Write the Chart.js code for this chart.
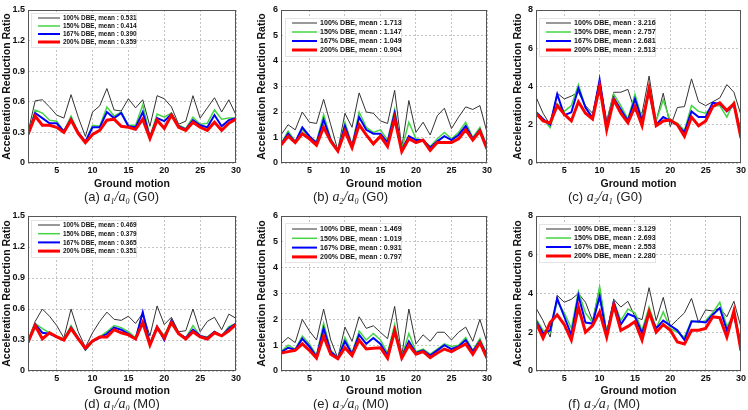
<!DOCTYPE html>
<html>
<head>
<meta charset="utf-8">
<script src="https://cdn.jsdelivr.net/npm/chart.js@4.4.1/dist/chart.umd.min.js"></script>
<style>
  body { margin: 0; background: #fff; width: 748px; height: 410px; position: relative; overflow: hidden;
         font-family: "Liberation Sans", Arial, sans-serif; }
  canvas { position: absolute; }
  .cap { position: absolute; font-size: 13px; line-height: 15px; color: #222; white-space: nowrap; }
  .cap .m { font-family: "Liberation Serif", "DejaVu Serif", serif; font-style: italic; font-size: 14px; }
  .cap sub { font-size: 8px; line-height: 0; vertical-align: -3px; font-style: italic; }
</style>
</head>
<body>
<canvas id="pa" width="250" height="190" style="left:0;top:0"></canvas>
<canvas id="pb" width="250" height="190" style="left:250px;top:0"></canvas>
<canvas id="pc" width="250" height="190" style="left:498px;top:0"></canvas>
<canvas id="pd" width="250" height="192" style="left:0;top:205px"></canvas>
<canvas id="pe" width="250" height="192" style="left:250px;top:205px"></canvas>
<canvas id="pf" width="250" height="192" style="left:498px;top:205px"></canvas>

<div class="cap" style="left:84px;top:189px">(a) <span class="m">a<sub>1</sub>/a<sub>0</sub></span> (G0)</div>
<div class="cap" style="left:313px;top:189px">(b) <span class="m">a<sub>2</sub>/a<sub>0</sub></span> (G0)</div>
<div class="cap" style="left:568px;top:189px">(c) <span class="m">a<sub>2</sub>/a<sub>1</sub></span> (G0)</div>
<div class="cap" style="left:84px;top:396px">(d) <span class="m">a<sub>1</sub>/a<sub>0</sub></span> (M0)</div>
<div class="cap" style="left:313px;top:396px">(e) <span class="m">a<sub>2</sub>/a<sub>0</sub></span> (M0)</div>
<div class="cap" style="left:568px;top:396px">(f) <span class="m">a<sub>2</sub>/a<sub>1</sub></span> (M0)</div>

<script>
const groundMotion = [1, 2, 3, 4, 5, 6, 7, 8, 9, 10, 11, 12, 13, 14, 15,
    16, 17, 18, 19, 20, 21, 22, 23, 24, 25, 26, 27, 28, 29, 30];
const xTicks = [5, 10, 15, 20, 25, 30];
const yTicksA1A0 = [0, 0.3, 0.6, 0.9, 1.2, 1.5];
const yTicksA2A0 = [0, 1, 2, 3, 4, 5, 6];
const yTicksA2A1 = [0, 2, 4, 6, 8];
const levels = ["100% DBE", "150% DBE", "167% DBE", "200% DBE"];

// (a) a1/a0, G0
const g0A1A0_100 = [0.30, 0.61, 0.62, 0.55, 0.47, 0.44, 0.67, 0.45, 0.26, 0.50, 0.56, 0.73, 0.52, 0.51, 0.63, 0.54, 0.62, 0.36, 0.66, 0.63, 0.55, 0.38, 0.41, 0.66, 0.44, 0.54, 0.64, 0.50, 0.62, 0.47];
const g0A1A0_150 = [0.28, 0.52, 0.49, 0.42, 0.41, 0.31, 0.46, 0.30, 0.21, 0.37, 0.36, 0.55, 0.46, 0.50, 0.37, 0.37, 0.57, 0.26, 0.48, 0.45, 0.49, 0.37, 0.34, 0.45, 0.38, 0.39, 0.52, 0.43, 0.44, 0.44];
const g0A1A0_167 = [0.28, 0.49, 0.44, 0.39, 0.39, 0.31, 0.43, 0.30, 0.21, 0.35, 0.35, 0.50, 0.44, 0.49, 0.36, 0.35, 0.50, 0.25, 0.44, 0.41, 0.48, 0.36, 0.33, 0.42, 0.37, 0.35, 0.47, 0.36, 0.42, 0.44];
const g0A1A0_200 = [0.28, 0.46, 0.37, 0.37, 0.35, 0.30, 0.42, 0.29, 0.20, 0.28, 0.32, 0.42, 0.43, 0.36, 0.35, 0.33, 0.43, 0.24, 0.42, 0.34, 0.47, 0.35, 0.32, 0.40, 0.35, 0.32, 0.40, 0.32, 0.39, 0.43];
const g0A1A0_mean = ["0.531", "0.414", "0.390", "0.359"];

// (b) a2/a0, G0
const g0A2A0_100 = [1.10, 1.50, 1.30, 2.00, 1.60, 1.55, 2.50, 1.50, 0.50, 1.95, 1.40, 2.75, 2.00, 1.95, 1.65, 1.55, 2.85, 0.60, 2.45, 1.20, 1.60, 1.10, 1.85, 2.15, 1.35, 1.80, 2.20, 2.10, 2.25, 1.20];
const g0A2A0_150 = [0.75, 1.25, 0.85, 1.30, 1.00, 0.85, 1.90, 0.95, 0.50, 1.60, 0.70, 2.00, 1.40, 1.20, 1.30, 0.90, 2.10, 0.55, 1.60, 0.95, 0.90, 0.65, 0.95, 1.20, 0.95, 1.20, 1.60, 1.00, 1.40, 0.65];
const g0A2A0_167 = [0.72, 1.15, 0.82, 1.40, 1.05, 0.78, 1.70, 0.90, 0.48, 1.45, 0.65, 1.80, 1.30, 1.15, 1.15, 0.80, 1.95, 0.50, 1.05, 0.90, 0.90, 0.60, 0.85, 1.05, 0.90, 1.10, 1.45, 0.95, 1.30, 0.60];
const g0A2A0_200 = [0.70, 1.05, 0.80, 1.15, 0.95, 0.70, 1.40, 0.85, 0.47, 1.25, 0.60, 1.50, 1.10, 0.75, 1.05, 0.65, 1.75, 0.45, 0.95, 0.80, 0.90, 0.50, 0.80, 0.80, 0.80, 0.95, 1.30, 0.90, 1.25, 0.55];
const g0A2A0_mean = ["1.713", "1.147", "1.049", "0.904"];

// (c) a2/a1, G0
const g0A2A1_100 = [3.45, 2.60, 2.00, 3.65, 3.35, 3.50, 3.70, 3.00, 2.60, 4.30, 2.20, 3.70, 3.70, 3.85, 2.70, 2.60, 4.55, 2.20, 3.65, 1.90, 2.90, 2.95, 4.40, 3.20, 3.00, 3.20, 3.40, 4.10, 3.70, 2.50];
const g0A2A1_150 = [2.70, 2.30, 1.85, 3.10, 2.70, 3.00, 4.10, 2.90, 2.40, 4.20, 2.00, 3.60, 3.00, 2.30, 3.60, 2.30, 3.80, 2.20, 3.30, 2.20, 2.10, 1.70, 3.00, 2.70, 2.60, 3.00, 3.00, 2.40, 3.20, 1.60];
const g0A2A1_167 = [2.65, 2.30, 2.00, 3.60, 2.50, 2.65, 3.90, 2.90, 2.35, 4.35, 1.90, 3.40, 2.80, 2.20, 3.35, 2.20, 3.75, 2.00, 2.40, 2.20, 2.00, 1.60, 2.70, 2.40, 2.40, 3.15, 3.10, 2.70, 3.05, 1.50];
const g0A2A1_200 = [2.60, 2.20, 2.10, 3.00, 2.55, 2.20, 3.20, 2.60, 2.30, 4.00, 1.75, 3.30, 2.60, 2.10, 2.95, 1.95, 3.90, 1.95, 2.20, 2.25, 2.00, 1.40, 2.40, 1.95, 2.20, 2.95, 3.15, 2.75, 3.10, 1.30];
const g0A2A1_mean = ["3.216", "2.757", "2.681", "2.513"];

// (d) a1/a0, M0
const m0A1A0_100 = [0.30, 0.48, 0.60, 0.53, 0.44, 0.32, 0.60, 0.38, 0.23, 0.37, 0.48, 0.57, 0.50, 0.49, 0.53, 0.46, 0.56, 0.34, 0.63, 0.45, 0.52, 0.38, 0.39, 0.60, 0.38, 0.48, 0.52, 0.40, 0.55, 0.51];
const m0A1A0_150 = [0.30, 0.46, 0.41, 0.37, 0.34, 0.31, 0.44, 0.32, 0.20, 0.28, 0.33, 0.38, 0.44, 0.42, 0.38, 0.32, 0.56, 0.27, 0.43, 0.34, 0.49, 0.37, 0.32, 0.44, 0.34, 0.33, 0.38, 0.34, 0.43, 0.46];
const m0A1A0_167 = [0.27, 0.45, 0.37, 0.36, 0.33, 0.30, 0.42, 0.32, 0.21, 0.29, 0.32, 0.36, 0.42, 0.40, 0.36, 0.31, 0.57, 0.26, 0.43, 0.30, 0.49, 0.36, 0.32, 0.40, 0.34, 0.32, 0.38, 0.34, 0.41, 0.46];
const m0A1A0_200 = [0.28, 0.44, 0.31, 0.37, 0.33, 0.30, 0.41, 0.31, 0.22, 0.29, 0.33, 0.33, 0.40, 0.37, 0.35, 0.31, 0.47, 0.25, 0.42, 0.32, 0.47, 0.36, 0.31, 0.38, 0.33, 0.31, 0.37, 0.34, 0.39, 0.45];
const m0A1A0_mean = ["0.469", "0.379", "0.365", "0.351"];

// (e) a2/a0, M0
const m0A2A0_100 = [1.05, 1.30, 1.10, 2.00, 1.55, 1.20, 2.40, 1.20, 0.50, 1.70, 1.15, 2.10, 1.65, 1.75, 1.50, 1.25, 2.50, 0.60, 2.40, 1.05, 1.40, 1.15, 1.50, 1.50, 1.20, 1.50, 1.70, 1.15, 2.00, 1.10];
const m0A2A0_150 = [0.75, 1.00, 0.85, 1.35, 1.05, 0.60, 1.85, 0.80, 0.50, 1.30, 0.70, 1.55, 1.20, 1.45, 1.20, 0.70, 1.80, 0.55, 1.45, 0.75, 0.85, 0.65, 0.85, 1.05, 0.95, 1.00, 1.30, 0.80, 1.25, 0.65];
const m0A2A0_167 = [0.72, 0.90, 0.82, 1.25, 0.95, 0.55, 1.65, 0.75, 0.50, 1.15, 0.65, 1.40, 1.05, 1.28, 1.05, 0.60, 1.60, 0.55, 1.15, 0.70, 0.80, 0.60, 0.80, 1.00, 0.85, 0.95, 1.20, 0.75, 1.15, 0.60];
const m0A2A0_200 = [0.70, 0.75, 0.80, 1.05, 0.80, 0.50, 1.35, 0.65, 0.48, 0.90, 0.60, 1.20, 0.85, 0.88, 0.90, 0.50, 1.55, 0.50, 1.00, 0.65, 0.75, 0.52, 0.70, 0.85, 0.75, 0.90, 1.05, 0.65, 1.10, 0.50];
const m0A2A0_mean = ["1.469", "1.019", "0.931", "0.797"];

// (f) a2/a1, M0
const m0A2A1_100 = [3.25, 2.60, 1.75, 3.90, 3.55, 3.70, 4.00, 3.55, 2.60, 4.30, 2.00, 3.70, 3.30, 3.60, 2.80, 2.65, 4.30, 2.60, 3.80, 2.30, 2.65, 3.00, 3.75, 2.50, 3.15, 3.10, 3.25, 2.80, 3.60, 2.25];
const m0A2A1_150 = [2.70, 2.10, 2.00, 3.60, 3.00, 2.20, 4.10, 3.00, 2.50, 4.35, 1.95, 3.60, 2.60, 3.20, 3.00, 2.10, 3.30, 2.20, 3.05, 2.20, 2.00, 1.75, 2.60, 2.50, 2.60, 3.00, 3.55, 2.30, 2.90, 1.50];
const m0A2A1_167 = [2.60, 1.95, 2.10, 3.75, 2.80, 1.85, 3.90, 2.50, 2.45, 3.85, 1.85, 3.55, 2.40, 2.95, 2.80, 1.95, 3.05, 2.20, 2.60, 2.35, 2.10, 1.60, 2.55, 2.55, 2.50, 2.90, 3.25, 2.10, 2.90, 1.30];
const m0A2A1_200 = [2.50, 1.70, 2.50, 2.90, 2.40, 1.60, 3.30, 2.00, 2.35, 3.05, 1.75, 3.40, 2.10, 2.30, 2.55, 1.60, 3.05, 2.00, 2.40, 2.10, 1.50, 1.40, 2.10, 2.10, 2.20, 2.80, 2.75, 1.75, 3.10, 1.05];
const m0A2A1_mean = ["3.129", "2.693", "2.553", "2.280"];

const FONT = '"Liberation Sans", Arial, sans-serif';
const seriesStyle = [
    { color: "#333333", width: 1 },
    { color: "#44d444", width: 1.5 },
    { color: "#0000ff", width: 2 },
    { color: "#ff0000", width: 3 },
];

// box round the plot area, like the matlab axes
const frameBox = {
    id: "frameBox",
    afterDatasetsDraw(chart) {
        const { ctx, chartArea: a } = chart;
        ctx.save();
        ctx.strokeStyle = "#555";
        ctx.lineWidth = 1;
        ctx.strokeRect(Math.round(a.left) + 0.5, Math.round(a.top) + 0.5,
            Math.round(a.right - a.left) - 1, Math.round(a.bottom - a.top) - 1);
        ctx.restore();
    },
};

// legend drawn inside the plot, top-left, with a white box
const boxLegend = {
    id: "boxLegend",
    afterDatasetsDraw(chart, args, opts) {
        const { ctx, chartArea: a } = chart;
        const sets = chart.data.datasets;
        ctx.save();
        ctx.font = `bold ${opts.size}px ${FONT}`;
        const textW = Math.max(...sets.map((d) => ctx.measureText(d.label).width));
        const x0 = a.left + opts.dx;
        const y0 = a.top + opts.dy;
        const bx = Math.round(x0 - 7) + 0.5;
        const by = Math.round(y0 - opts.rowH * 0.6) + 0.5;
        const bw = Math.round(opts.lineLen + 3 + textW + 6);
        const bh = Math.round(opts.rowH * (sets.length - 1) + opts.rowH * 1.2);
        ctx.fillStyle = "#fff";
        ctx.fillRect(bx, by, bw, bh);
        ctx.strokeStyle = "#e4e4e4";
        ctx.lineWidth = 1;
        ctx.strokeRect(bx, by, bw, bh);
        sets.forEach((d, i) => {
            const y = y0 + i * opts.rowH;
            ctx.strokeStyle = d.borderColor;
            ctx.lineWidth = d.borderWidth;
            ctx.beginPath();
            ctx.moveTo(x0, y);
            ctx.lineTo(x0 + opts.lineLen, y);
            ctx.stroke();
            ctx.fillStyle = "#111";
            ctx.textBaseline = "middle";
            ctx.fillText(d.label, x0 + opts.lineLen + 3, y + 0.5);
        });
        ctx.restore();
    },
};

function makePanel(id, series, means, yTicks, cfg) {
    const tickFont = { family: FONT, size: 9, weight: "bold" };
    const xTitleFont = { family: FONT, size: 10.5, weight: "bold" };
    const yTitleFont = { family: FONT, size: 10.5, weight: "bold" };
    new Chart(document.getElementById(id), {
        type: "line",
        data: {
            datasets: series.map((vals, i) => ({
                label: `${levels[i]}, mean : ${means[i]}`,
                data: vals.map((v, k) => ({ x: groundMotion[k], y: v })),
                borderColor: seriesStyle[i].color,
                borderWidth: seriesStyle[i].width,
                order: series.length - 1 - i,
                pointRadius: 0,
                tension: 0,
                fill: false,
            })),
        },
        options: {
            responsive: false,
            animation: false,
            devicePixelRatio: 1,
            layout: { padding: { top: cfg.top, right: cfg.right, left: 0, bottom: 0 } },
            plugins: {
                legend: { display: false },
                tooltip: { enabled: false },
                boxLegend: cfg.legend,
            },
            scales: {
                x: {
                    type: "linear",
                    min: groundMotion[0],
                    max: groundMotion[groundMotion.length - 1],
                    afterBuildTicks: (s) => { s.ticks = xTicks.map((v) => ({ value: v })); },
                    afterFit: (s) => { s.height = cfg.xh; },
                    grid: { color: "#c4c4c4", drawTicks: false },
                    border: { display: false, dash: [2, 2] },
                    ticks: { padding: 2, font: tickFont, color: "#111", maxRotation: 0, autoSkip: false,
                        callback: (v) => String(v) },
                    title: { display: true, text: "Ground motion", font: xTitleFont, color: "#111", padding: 0 },
                },
                y: {
                    min: yTicks[0],
                    max: yTicks[yTicks.length - 1],
                    afterBuildTicks: (s) => { s.ticks = yTicks.map((v) => ({ value: v })); },
                    afterFit: (s) => { s.width = cfg.yw; },
                    grid: { color: "#c4c4c4", drawTicks: false },
                    border: { display: false, dash: [2, 2] },
                    ticks: { padding: 3, font: tickFont, color: "#111", autoSkip: false,
                        callback: (v) => String(v) },
                    title: { display: true, text: "Acceleration Reduction Ratio", font: yTitleFont, color: "#111",
                        padding: { top: cfg.tp, bottom: 0 } },
                },
            },
        },
        plugins: [frameBox, boxLegend],
    });
}

const smallLegend = { dx: 10, dy: 8, lineLen: 22, rowH: 8, size: 6.4 };
const bigLegend = { dx: 11, dy: 13, lineLen: 25, rowH: 9, size: 7.1 };

makePanel("pa", [g0A1A0_100, g0A1A0_150, g0A1A0_167, g0A1A0_200], g0A1A0_mean, yTicksA1A0,
    { top: 10, right: 14, xh: 27, yw: 28, tp: 1, legend: smallLegend });
makePanel("pb", [g0A2A0_100, g0A2A0_150, g0A2A0_167, g0A2A0_200], g0A2A0_mean, yTicksA2A0,
    { top: 10, right: 13, xh: 27, yw: 31, tp: 6, legend: bigLegend });
makePanel("pc", [g0A2A1_100, g0A2A1_150, g0A2A1_167, g0A2A1_200], g0A2A1_mean, yTicksA2A1,
    { top: 10, right: 7, xh: 27, yw: 38, tp: 14, legend: Object.assign({}, bigLegend, { dx: 10 }) });
makePanel("pd", [m0A1A0_100, m0A1A0_150, m0A1A0_167, m0A1A0_200], m0A1A0_mean, yTicksA1A0,
    { top: 11, right: 14, xh: 26, yw: 28, tp: 1, legend: Object.assign({}, smallLegend, { dy: 9, rowH: 8.7 }) });
makePanel("pe", [m0A2A0_100, m0A2A0_150, m0A2A0_167, m0A2A0_200], m0A2A0_mean, yTicksA2A0,
    { top: 11, right: 13, xh: 26, yw: 31, tp: 6, legend: Object.assign({}, bigLegend, { rowH: 9.3 }) });
makePanel("pf", [m0A2A1_100, m0A2A1_150, m0A2A1_167, m0A2A1_200], m0A2A1_mean, yTicksA2A1,
    { top: 11, right: 7, xh: 26, yw: 38, tp: 14, legend: Object.assign({}, bigLegend, { dx: 10 }) });
</script>
</body>
</html>
